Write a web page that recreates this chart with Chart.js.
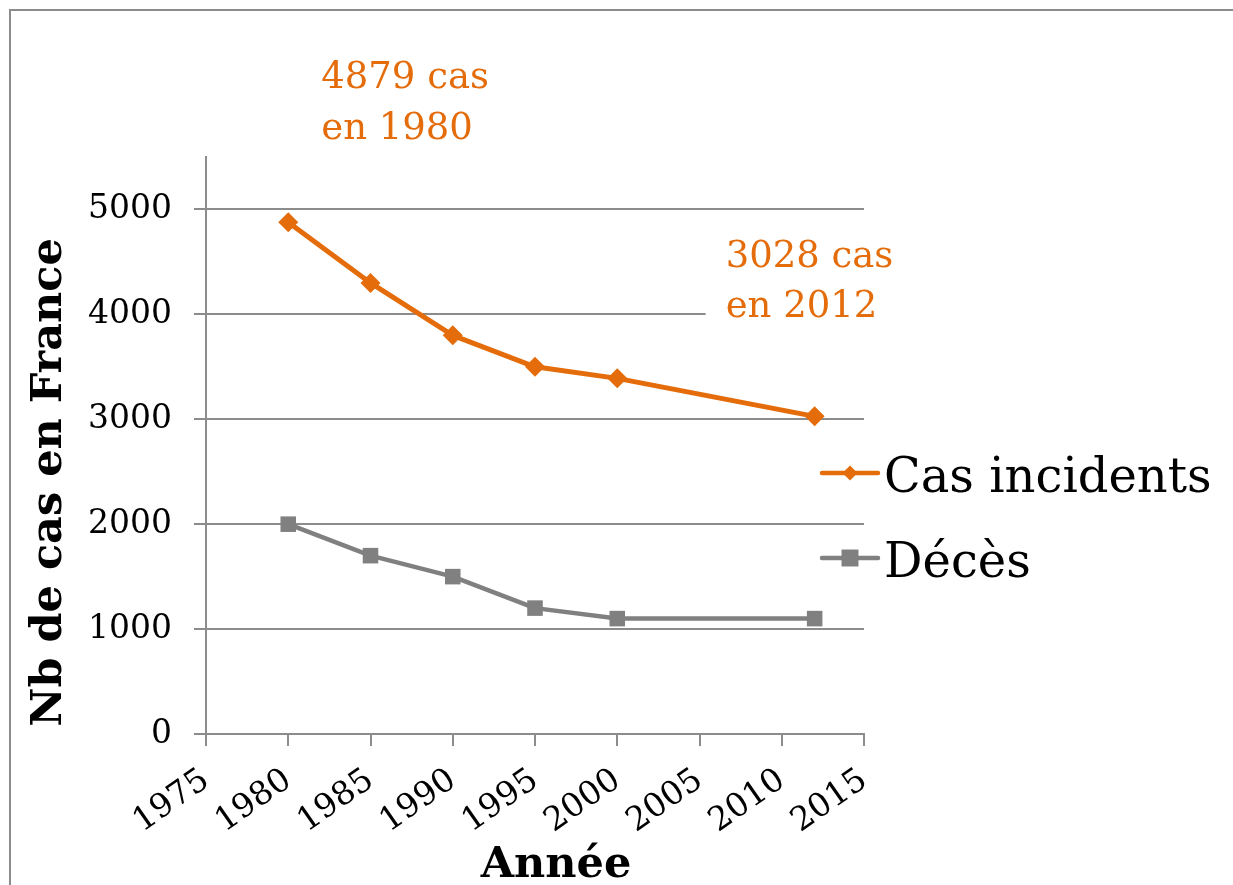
<!DOCTYPE html>
<html><head><meta charset="utf-8">
<script src="https://cdn.jsdelivr.net/npm/chart.js@4.4.1/dist/chart.umd.min.js"></script>
<style>
html,body{margin:0;padding:0;background:#fff;}
#wrap{position:relative;width:1233px;height:885px;overflow:hidden;}
#frame{position:absolute;left:9px;top:9px;width:1400px;height:1000px;border-left:2px solid #8c8c8c;border-top:2px solid #8c8c8c;}
canvas{position:absolute;left:0;top:0;}
</style></head><body>
<div id="wrap"><div id="frame"></div><canvas id="c" width="1233" height="885"></canvas></div>
<script>
// ---- data ----
const years = [1980, 1985, 1990, 1995, 2000, 2012];
const casIncidents = [4879, 4300, 3800, 3500, 3390, 3028];
const deces = [2000, 1700, 1500, 1200, 1100, 1100];
const seriesNames = ['Cas incidents', 'Décès'];
const xTickValues = [1975, 1980, 1985, 1990, 1995, 2000, 2005, 2010, 2015];
const yTickValues = [0, 1000, 2000, 3000, 4000, 5000];
const xTitle = 'Année';
const yTitle = 'Nb de cas en France';
const noteFirst = ['4879 cas', 'en 1980'];
const noteLast = ['3028 cas', 'en 2012'];

// ---- styles ----
const ORANGE = '#E46C0A';
const GREY = '#808080';
const GRID = '#8c8c8c';
const SERIF = '"DejaVu Serif", serif';

function pts(vals) { return years.map((y, i) => ({x: y, y: vals[i]})); }

function drawMarker(ctx, style, x, y, r, color) {
  ctx.save();
  ctx.fillStyle = color;
  ctx.beginPath();
  if (style === 'rectRot') {
    ctx.moveTo(x, y - r); ctx.lineTo(x + r, y); ctx.lineTo(x, y + r); ctx.lineTo(x - r, y);
  } else {
    const s = r * Math.SQRT1_2;
    ctx.rect(x - s, y - s, 2 * s, 2 * s);
  }
  ctx.closePath(); ctx.fill();
  ctx.restore();
}

const extras = {
  id: 'extras',
  afterDraw(chart) {
    const ctx = chart.ctx;
    const ca = chart.chartArea;
    const xs = chart.scales.x;
    ctx.save();
    // axis titles
    ctx.fillStyle = '#000';
    ctx.font = 'bold 43px ' + SERIF;
    ctx.textAlign = 'center';
    ctx.textBaseline = 'alphabetic';
    ctx.fillText(xTitle, (ca.left + ca.right) / 2 + 21, 877);
    ctx.save();
    ctx.translate(61, (ca.top + ca.bottom) / 2 + 37);
    ctx.rotate(-Math.PI / 2);
    ctx.fillText(yTitle, 0, 0);
    ctx.restore();

    // annotations
    ctx.font = '37px ' + SERIF;
    ctx.textAlign = 'left';
    ctx.fillStyle = ORANGE;
    const x1 = xs.getPixelForValue(years[0]) + 33;
    ctx.fillText(noteFirst[0], x1, 88);
    ctx.fillText(noteFirst[1], x1, 139);
    const x2 = xs.getPixelForValue(years[years.length - 1]) - 89;
    ctx.fillStyle = '#fff';
    ctx.fillRect(x2 - 20, 226, 220, 104);
    ctx.fillStyle = ORANGE;
    ctx.fillText(noteLast[0], x2, 267);
    ctx.fillText(noteLast[1], x2, 317);

    // legend
    const rows = [473, 558];
    const lx0 = ca.right - 42, lx1 = ca.right + 14;
    chart.data.datasets.forEach((ds, i) => {
      const y = rows[i];
      ctx.strokeStyle = ds.borderColor;
      ctx.lineWidth = 4.5;
      ctx.lineCap = 'round';
      ctx.beginPath(); ctx.moveTo(lx0, y); ctx.lineTo(lx1, y); ctx.stroke();
      drawMarker(ctx, ds.pointStyle, (lx0 + lx1) / 2, y, ds.pointStyle === 'rectRot' ? 7.5 : 12, ds.backgroundColor);
      ctx.fillStyle = '#000';
      ctx.font = '48px ' + SERIF;
      ctx.textAlign = 'left';
      ctx.fillText(ds.label, lx1 + 6, y + 19);
    });
    ctx.restore();
  }
};

new Chart(document.getElementById('c'), {
  type: 'line',
  data: {
    datasets: [
      {label: seriesNames[0], data: pts(casIncidents), borderColor: ORANGE, backgroundColor: ORANGE,
       borderWidth: 5, pointStyle: 'rectRot', pointRadius: 10, pointHoverRadius: 10, pointBorderWidth: 0,
       borderJoinStyle: 'round', borderCapStyle: 'round', tension: 0},
      {label: seriesNames[1], data: pts(deces), borderColor: GREY, backgroundColor: GREY,
       borderWidth: 4.5, pointStyle: 'rect', pointRadius: 11, pointHoverRadius: 11, pointBorderWidth: 0,
       borderJoinStyle: 'round', borderCapStyle: 'round', tension: 0}
    ]
  },
  options: {
    responsive: false, animation: false, devicePixelRatio: 1, events: [],
    layout: {padding: {left: 0, top: 157, right: 369, bottom: 0}},
    plugins: {legend: {display: false}, tooltip: {enabled: false}},
    scales: {
      x: {
        type: 'linear', min: 1975, max: 2015,
        afterBuildTicks: s => { s.ticks = xTickValues.map(v => ({value: v})); },
        afterFit: s => { s.height = 151; },
        grid: {drawOnChartArea: false, drawTicks: true, tickLength: 12, color: GRID, lineWidth: 2},
        border: {display: true, color: GRID, width: 2},
        ticks: {autoSkip: false, minRotation: 35, maxRotation: 35, padding: 15, color: '#000',
                font: {family: SERIF, size: 33}, callback: v => String(v)}
      },
      y: {
        type: 'linear', min: 0, max: 5500,
        afterBuildTicks: s => { s.ticks = yTickValues.map(v => ({value: v})); },
        afterFit: s => { s.width = 206; },
        grid: {drawTicks: true, tickLength: 12, color: GRID, lineWidth: 2},
        border: {display: true, color: GRID, width: 2},
        ticks: {padding: 22, color: '#000', font: {family: SERIF, size: 33}, callback: v => String(v)}
      }
    }
  },
  plugins: [extras]
});
</script>
</body></html>
